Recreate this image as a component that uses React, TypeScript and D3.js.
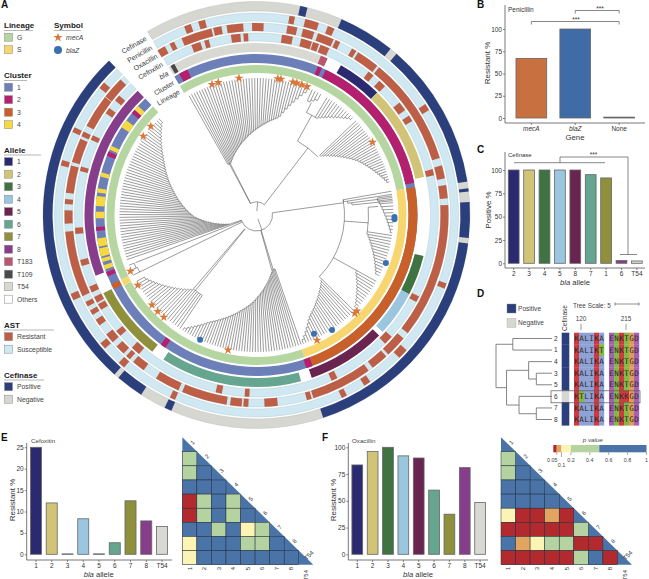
import React, { useEffect, useRef } from 'react';
import {
  arc,
  axisBottom,
  axisLeft,
  hierarchy,
  interpolateNumber,
  path as d3path,
  range,
  scaleBand,
  scaleLinear,
  scaleOrdinal,
  scaleThreshold,
  select,
  symbol,
  symbolStar,
} from 'd3';

const FONT = '"Liberation Sans", Arial, sans-serif';
const INK = '#333';

// ---- colours
const alleleNames = ['1', '2', '3', '4', '5', '6', '7', '8', 'T183', 'T109', 'T54', 'Others'];
const alleleColors = ['#2b2a70', '#d2c476', '#3f7341', '#9ac6e0', '#6a2450', '#66a58f', '#8e903c', '#863d8a', '#b8576f', '#4a4a4a', '#d8d9d3', '#ffffff'];
const lineageNames = ['G', 'S'];
const lineageColors = ['#b6d6a1', '#f7d670'];
const clusterNames = ['1', '2', '3', '4'];
const clusterColors = ['#6c7fb8', '#b5206e', '#c9602a', '#f6d83f'];
const RESISTANT = '#bd5f47';
const SUSCEPTIBLE = '#cfe8f2';
const POSITIVE = '#2b3f7d';
const NEGATIVE = '#d6d7d1';
const STAR = '#d9783a';
const DOT = '#3a6fb0';

const alleleColor = scaleOrdinal<string, string>(alleleNames, alleleColors);

// ---- panel A rings, degrees clockwise from the top
const RING_START = -30.7;
const RING_END = 316.3;
const lineageSegments: [number, number, string][] = [
  [-30.7, 80, 'G'], [80, 161.4, 'S'], [161.4, 242, 'G'], [242, 244.5, 'S'], [244.5, 316.3, 'G'],
];
const clusterSegments: [number, number, string][] = [
  [-30.7, 316.3, '1'], [-28.7, -25.4, '2'], [22.4, 24, '2'], [25.5, 78.4, '2'], [80, 161.4, '3'],
  [159.6, 162, '2'], [214.5, 216.5, '2'], [242.5, 244.5, '3'], [247.6, 249.2, '2'], [250.2, 251.8, '4'],
  [253, 254.4, '4'], [255, 258, '4'], [258.6, 261.6, '4'], [264.3, 265.7, '2'], [268.8, 271.2, '4'],
  [273.2, 276.8, '4'], [278, 279.6, '4'], [283.8, 285.4, '4'], [291.6, 293.2, '2'], [294, 295.5, '4'],
  [303, 306, '4'], [309.2, 310.8, '2'], [310.8, 312.6, '4'],
];
const alleleSegments: [number, number, string][] = [
  [-30.7, -30, 'T54'], [-30, -28.5, 'T109'], [-28.5, 22, 'T54'], [22, 24.5, 'T183'], [24.5, 29.4, 'Others'],
  [29.4, 44.6, '1'], [44.6, 77.2, '2'], [77.2, 103.8, 'Others'], [103.8, 117.4, '3'], [117.4, 132.9, '4'],
  [132.9, 134.5, 'Others'], [134.5, 161.3, '5'], [161.3, 165, 'Others'], [165, 212.8, '6'],
  [212.8, 217.3, 'Others'], [217.3, 243, '7'], [243, 249.3, 'Others'], [249.3, 316.3, '8'],
];
// resistant isolates as [centre, width]
const cefoxitinResistant = [
  [-19.5, 3], [-16, 1.5], [-6.6, 3], [-3.4, 1.5], [9.8, 3.5], [16, 3.5], [19.1, 2], [22.1, 3], [39, 2],
  [43.7, 2.5], [53.3, 3], [57.9, 2], [76.4, 2], [117.6, 2], [133.5, 3], [154.6, 2], [183, 1.5], [192, 2],
  [221.7, 3], [229.4, 2], [239.6, 2], [242.2, 2], [245.8, 2], [254.7, 2], [265, 2], [284.7, 1.5],
  [295.2, 1.5], [305, 2], [310, 2],
];
const oxacillinResistant = [
  [-29.8, 2.5], [-26.2, 1.5], [-18.3, 9.4], [-11.8, 2.5], [-6.5, 5], [0.4, 3.5], [10.8, 3], [15.8, 3.5],
  [21.2, 5], [25.1, 1.5], [30.6, 1.5], [35.5, 7], [56.2, 33], [77, 4], [83, 4], [107.5, 41], [133.3, 6.6],
  [140.1, 5.3], [153.5, 18.5], [164, 1.5], [175.6, 4], [183.2, 1.5], [186.2, 3.5], [195.9, 13.8],
  [207.8, 7.6], [218, 4], [222, 1.5], [225.3, 3], [230, 3], [235.9, 2], [239.4, 1.5], [242.3, 1.5],
  [255, 20], [269.4, 4], [274, 1.5], [280.8, 8.3], [289.7, 7.4], [295, 1.5], [302.8, 10.2], [311.5, 6.8],
];
const penicillinResistant = [
  [-20, 2], [-15.8, 2], [10.2, 1.6], [16, 4], [21.7, 2], [57.7, 2], [110.6, 1.6], [133.5, 3], [146.7, 2],
  [154.2, 1.6], [204.6, 1.6], [222, 2], [229.6, 2], [246, 2], [285, 1.6], [295, 1.5], [310, 2],
];
const cefinasePositive = [
  [11.8, 13.8], [23.5, 38.9], [41, 81], [82.8, 83.7], [86.5, 96.2], [97.7, 161.8], [203.5, 205.5],
  [212.7, 220.3], [221.7, 316.3],
];
const ringLabels = ['Lineage', 'Cluster', 'bla', 'Cefoxitin', 'Oxacillin', 'Penicillin', 'Cefinase'];
const ringInner = [142, 152, 163, 174, 184, 194, 204];
const ringOuter = [150, 161, 172, 182, 192, 202, 213.5];

// ---- panel A tree: combs are [first tip, last tip, tips, curve angles, curve radii]
type Comb = [number, number, number, number[], number[]];
const combs: Comb[] = [
  [-29.5, 22, 44, [-29.5, -27, -10, 12, 22], [58, 58, 76, 100, 136]],
  [24, 28, 4, [24, 28], [125, 132]],
  [31, 44.6, 12, [31, 44.6], [114, 136]],
  [46.6, 76, 27, [46.6, 61, 76], [87, 114.6, 136]],
  [80, 84, 4, [80, 84], [88, 100]],
  [82, 97.5, 12, [82, 97.5], [122, 136]],
  [98.6, 116.3, 15, [98.6, 116.3], [112, 134]],
  [119, 133, 12, [119, 133], [114.6, 136]],
  [134.5, 160, 22, [134.5, 152, 160], [92, 115, 136]],
  [161, 212.6, 46, [161, 163, 182, 203, 212.6], [57, 57, 88, 117, 136]],
  [214, 241, 22, [214, 219, 241], [97, 97, 130]],
  [244, 248.5, 3, [244, 248.5], [130, 133]],
  [251, 314.6, 54, [251, 268, 285, 300, 314.6], [29, 63, 86, 108, 134]],
];
// trunk radials [angle, from r, to r] and arcs [r, from angle, to angle]
const trunkRadials = [
  [5, 4, 13], [-27, 13, 58], [-28, 13, 58], [37.5, 13, 84.5], [29, 84.5, 114], [26, 114, 125], [160, 4, 16],
  [82, 16, 88], [94, 88, 112], [86, 112, 122], [119, 88, 114.6], [134.5, 88, 92], [163, 16, 57], [164.5, 16, 57],
  [219, 18, 97], [220.5, 18, 97], [244, 16, 130], [248.5, 16, 130], [251, 16, 29],
];
const trunkArcs = [
  [13, -28, 37.5], [84.5, 29, 46.6], [114, 26, 31], [16, 82, 251], [88, 80, 134.5], [112, 86, 98.6],
];
const starTips = [
  [-18.8, 138], [-16.1, 138], [-7.3, 138], [8.9, 138], [10.2, 138], [15.3, 138], [17, 138], [19.2, 138],
  [21.5, 138], [57.9, 137], [133.7, 139], [135, 139], [154.2, 139], [191.9, 138], [222.2, 138], [225.7, 138],
  [229.3, 138], [239.4, 138], [246, 138], [304.8, 138], [310, 138],
];
const dotTips = [
  [90.8, 138], [91.8, 138], [110.3, 138], [146.7, 137.6], [154.2, 132], [204.3, 137],
];

// ---- bar panels
const geneNames = ['mecA', 'blaZ', 'None'];
const geneResistant = [67, 100, 1];
const geneColors = ['#c8703f', '#3f6ca6', '#555'];
const cefinaseAlleles = ['2', '3', '4', '5', '8', '7', '1', '6', 'T54'];
const cefinaseValues = [100, 100, 100, 100, 100, 95, 91.5, 3, 2.5];
const cefinaseColorKeys = ['1', '2', '3', '4', '5', '6', '7', '8', 'T54'];
const barAlleles = ['1', '2', '3', '4', '5', '6', '7', '8', 'T54'];
const cefoxitinValues = [25, 12, 0.1, 8.3, 0.1, 2.7, 12.5, 7.8, 6.5];
const oxacillinValues = [83.5, 96, 100, 92, 90, 60, 37.5, 81, 48.5];

// ---- panel D
const seqRows = ['2', '1', '4', '3', '5', '6', '7', '8'];
const seqs = [
  'KALIKA ENKTGD', 'KALIKT ENKTGD', 'KALIKA ENKTGD', 'KALIKA ENKTGD',
  'KALIKA ENKTGD', 'KTLIKA ENKKGD', 'KALIKA ENKTGD', 'KALIKA ENKTGD',
];
const residueColors: Record<string, string> = {
  K: '#cf3a3f', A: '#8fa2d6', L: '#8fa2d6', I: '#8fa2d6', T: '#80bb45',
  E: '#a561b4', N: '#80bb45', G: '#e39a58', D: '#a561b4',
};
const alleleTree = {
  len: 0,
  children: [
    { len: 3.5, children: [{ len: 0, name: '2' }, { len: 0, name: '1' }] },
    {
      len: 2.2,
      children: [
        { len: 4.6, children: [{ len: 0, name: '4' }, { len: 1.6, children: [{ len: 0, name: '3' }, { len: 0, name: '5' }] }] },
        { len: 2.6, children: [{ len: 0, name: '6' }, { len: 3.6, children: [{ len: 0, name: '7' }, { len: 0, name: '8' }] }] },
      ],
    },
  ],
};

// ---- heatmaps, lower triangle by row
const pColors = ['#b22a2e', '#e2a55f', '#fbf4b5', '#b5d3a0', '#4a74a8'];
const pBreaks = [0.05, 0.1, 0.2, 0.5];
const cefoxitinP = [
  [0.3], [0.3, 0.8], [0.8, 0.8, 0.8], [0.02, 0.3, 0.8, 0.3], [0.02, 0.3, 0.8, 0.3, 0.8],
  [0.8, 0.8, 0.3, 0.8, 0.15, 0.3], [0.15, 0.8, 0.8, 0.8, 0.3, 0.3, 0.8], [0.15, 0.8, 0.8, 0.8, 0.8, 0.8, 0.8, 0.8],
];
const oxacillinP = [
  [0.3], [0.3, 0.8], [0.8, 0.8, 0.8], [0.8, 0.8, 0.8, 0.8], [0.15, 0.02, 0.02, 0.08, 0.02],
  [0.02, 0.02, 0.02, 0.02, 0.02, 0.3], [0.8, 0.08, 0.15, 0.3, 0.3, 0.02, 0.02],
  [0.02, 0.02, 0.02, 0.02, 0.02, 0.3, 0.8, 0.02],
];
const pTicks = [0.05, 0.1, 0.2, 0.4, 0.6, 0.8, 1];

// ---- polar helpers
const CX = 256.5;
const CY = 215;
const rad = (deg: number) => (deg * Math.PI) / 180;
const polar = (deg: number, r: number): [number, number] => [CX + r * Math.sin(rad(deg)), CY - r * Math.cos(rad(deg))];
const ringArc = arc<{ a: number; b: number; r0: number; r1: number }>()
  .startAngle(d => rad(d.a))
  .endAngle(d => rad(d.b))
  .innerRadius(d => d.r0)
  .outerRadius(d => d.r1);

function treePath(): string {
  const p = d3path();
  const arcTo = (r: number, a: number, b: number) => {
    p.moveTo(...polar(a, r));
    p.arc(CX, CY, r, rad(a - 90), rad(b - 90), b < a);
  };
  const radial = (deg: number, r0: number, r1: number) => {
    p.moveTo(...polar(deg, r0));
    p.lineTo(...polar(deg, r1));
  };
  const TIP = 137;
  combs.forEach(([from, to, n, ct, cr]) => {
    const curve = scaleLinear().domain(ct).range(cr);
    const tips = range(n).map(i => interpolateNumber(from, to)(n > 1 ? i / (n - 1) : 0));
    tips.forEach((t, i) => {
      radial(t, curve(t), TIP);
      if (i < n - 1) {
        const next = tips[i + 1];
        arcTo(curve(t), t, next);
        radial(next, curve(t), curve(next));
      }
    });
  });
  trunkRadials.forEach(([a, r0, r1]) => radial(a, r0, r1));
  trunkArcs.forEach(([r, a, b]) => arcTo(r, a, b));
  return p.toString();
}

const T: React.FC<React.SVGProps<SVGTextElement>> = ({ children, ...rest }) => (
  <text fontFamily={FONT} fill={INK} {...rest}>
    {children}
  </text>
);

function Axis({ axis, transform, italic }: { axis: any; transform: string; italic?: (d: string) => boolean }) {
  const ref = useRef<SVGGElement>(null);
  useEffect(() => {
    const g = select(ref.current as SVGGElement);
    g.call(axis);
    g.select('.domain').remove();
    g.selectAll('line').attr('stroke', '#555').attr('stroke-width', 0.7);
    g.selectAll('text')
      .attr('font-family', FONT)
      .attr('font-size', 6.5)
      .attr('fill', INK)
      .attr('font-style', (d: any) => (italic && italic(String(d)) ? 'italic' : 'normal'));
  });
  return <g ref={ref} transform={transform} />;
}

function Bars(props: {
  names: string[];
  values: number[];
  colors: string[];
  xr: [number, number];
  axisX: number;
  axisEnd: number;
  axisTop: number;
  axisBottomY: number;
  y0: number;
  y1: number;
  max: number;
  ticks: number[];
  pad?: number;
  italic?: (d: string) => boolean;
}) {
  const { names, values, colors, xr, axisX, axisEnd, axisTop, axisBottomY, y0, y1, max, ticks, italic } = props;
  const x = scaleBand<string>().domain(names).range(xr).paddingInner(props.pad ?? 0.3).paddingOuter((props.pad ?? 0.3) / 2);
  const y = scaleLinear().domain([0, max]).range([y0, y1]);
  return (
    <g>
      {values.map((v, i) => (
        <rect
          key={names[i]}
          x={x(names[i])}
          y={y(v)}
          width={x.bandwidth()}
          height={y0 - y(v)}
          fill={colors[i]}
          stroke="#666"
          strokeWidth={0.8}
        />
      ))}
      <line x1={axisX} x2={axisX} y1={axisTop} y2={axisBottomY} stroke="#555" strokeWidth={0.8} />
      <line x1={axisX} x2={axisEnd} y1={axisBottomY} y2={axisBottomY} stroke="#555" strokeWidth={0.8} />
      <Axis axis={axisLeft(y).tickValues(ticks).tickSize(2).tickPadding(1).tickFormat(d => String(d))} transform={`translate(${axisX},0)`} />
      <Axis axis={axisBottom(x).tickSize(2).tickPadding(1.5)} transform={`translate(0,${axisBottomY})`} italic={italic} />
    </g>
  );
}

function Heat({ x0, x1, data, bottomX }: { x0: number; x1: number; data: number[][]; bottomX: number }) {
  const top = 437.3;
  const gridTop = 451.7;
  const bottom = 564.7;
  const color = scaleThreshold<number, string>().domain(pBreaks).range(pColors);
  const cols = scaleBand<number>().domain(range(9)).range([x0, x1]);
  const rows = scaleBand<number>().domain(range(8)).range([gridTop, bottom]);
  const w = cols.bandwidth();
  const h = rows.bandwidth();
  return (
    <g>
      <path d={`M${x0},${top}L${x1},${bottom}L${x0},${bottom}Z`} fill={pColors[4]} />
      {data.map((row, r) =>
        row.map((p, c) => (
          <rect key={`${r}-${c}`} x={cols(c)} y={rows(r)} width={w} height={h} fill={color(p)} stroke="#26303d" strokeWidth={0.5} />
        )),
      )}
      {barAlleles.map((a, i) => (
        <React.Fragment key={a}>
          <T
            fontSize={6}
            textAnchor="middle"
            transform={`translate(${(cols(i) as number) + w * 0.8},${top + h * i + 6.5}) rotate(-45)`}
          >
            {a}
          </T>
          <T
            fontSize={6}
            textAnchor={a === 'T54' ? 'end' : 'middle'}
            transform={`translate(${(cols(i) as number) + w * bottomX + 2},${a === 'T54' ? 570 : 568.5}) rotate(-90)`}
          >
            {a}
          </T>
        </React.Fragment>
      ))}
    </g>
  );
}

function Legend({ title, y, width, rows }: { title: string; y: number; width: number; rows: [string, string][] }) {
  return (
    <g>
      <T x={4} y={y} fontSize={8} fontWeight="bold" fill="#222">
        {title}
      </T>
      <line x1={4} x2={4 + width} y1={y + 2.5} y2={y + 2.5} stroke="#999" strokeWidth={0.7} />
      {rows.map(([name, color], i) => (
        <g key={name}>
          <rect x={4.5} y={y + 5.2 + i * 12.5} width={8} height={8} fill={color} stroke="#888" strokeWidth={0.5} />
          <T x={17} y={y + 11.5 + i * 12.5} fontSize={6.8} fill="#444">
            {name}
          </T>
        </g>
      ))}
    </g>
  );
}

function Bracket({ x1, x2, y, tip }: { x1: number; x2: number; y: number; tip: number }) {
  return <path d={`M${x1},${y + tip}V${y}H${x2}V${y + tip}`} fill="none" stroke="#555" strokeWidth={0.7} />;
}

function AlleleTreeLines() {
  const root = hierarchy<any>(alleleTree);
  const x = scaleLinear().domain([0, 5]).range([496, 520]);
  const rowY = scaleBand<string>().domain(seqRows).range([332.7, 425.3]);
  const yOf = (n: any): number =>
    n.children ? (yOf(n.children[0]) + yOf(n.children[n.children.length - 1])) / 2 : (rowY(n.data.name) as number) + rowY.bandwidth() / 2;
  const segs: string[] = [];
  const walk = (n: any, d: number) => {
    const dist = d + n.data.len;
    if (n.children) {
      n.children.forEach((c: any) => walk(c, dist));
      const ys = n.children.map(yOf);
      segs.push(`M${x(dist)},${ys[0]}V${ys[ys.length - 1]}`);
      n.children.forEach((c: any) => {
        const end = c.children ? x(dist + c.data.len) : 552;
        segs.push(`M${x(dist)},${yOf(c)}H${end}`);
      });
    }
  };
  walk(root, 0);
  return <path d={segs.join('')} fill="none" stroke="#777" strokeWidth={0.9} />;
}

export default function App() {
  const starPath = symbol().type(symbolStar).size(26)() as string;
  const residueCols = scaleBand<number>().domain(range(13)).range([574, 639]);
  const rowBand = scaleBand<string>().domain(seqRows).range([332.7, 425.3]);
  const geneX = scaleBand<string>().domain(geneNames).range([509.4, 641.1]);
  const pX = scaleLinear().domain([0, 1]).range([552, 646.5]);
  const astRings: [number[][], number][] = [
    [cefoxitinResistant, 3],
    [oxacillinResistant, 4],
    [penicillinResistant, 5],
  ];
  const pSegments = [0, ...pBreaks, 1];

  return (
    <svg
      width={649}
      height={579}
      viewBox="0 0 649 579"
      style={{ position: 'absolute', left: 0, top: 0, background: '#fff' }}
    >
      {/* panel letters */}
      <T x={1} y={8} fontSize={10} fontWeight="bold" fill="#111">A</T>
      <T x={477} y={8} fontSize={10} fontWeight="bold" fill="#111">B</T>
      <T x={477} y={153} fontSize={10} fontWeight="bold" fill="#111">C</T>
      <T x={477} y={297} fontSize={10} fontWeight="bold" fill="#111">D</T>
      <T x={1} y={441} fontSize={10} fontWeight="bold" fill="#111">E</T>
      <T x={322} y={441} fontSize={10} fontWeight="bold" fill="#111">F</T>

      {/* legends of A */}
      <Legend title="Lineage" y={28} width={29} rows={lineageNames.map((n, i) => [n, lineageColors[i]])} />
      <Legend title="Cluster" y={78} width={23} rows={clusterNames.map((n, i) => [n, clusterColors[i]])} />
      <Legend title="Allele" y={152.5} width={37} rows={alleleNames.map((n, i) => [n, alleleColors[i]])} />
      <Legend title="AST" y={327.5} width={50} rows={[['Resistant', RESISTANT], ['Susceptible', SUSCEPTIBLE]]} />
      <Legend title="Cefinase" y={377.5} width={40} rows={[['Positive', POSITIVE], ['Negative', NEGATIVE]]} />
      <T x={54} y={28} fontSize={8} fontWeight="bold" fill="#222">Symbol</T>
      <line x1={54} x2={81} y1={30.5} y2={30.5} stroke="#999" strokeWidth={0.7} />
      <path d={starPath} transform="translate(58,37.5)" fill={STAR} />
      <circle cx={58} cy={50} r={4} fill={DOT} />
      <T x={66} y={40} fontSize={6.8} fontStyle="italic" fill="#444">mecA</T>
      <T x={66} y={52.5} fontSize={6.8} fontStyle="italic" fill="#444">blaZ</T>

      {/* rings of A */}
      <g transform={`translate(${CX},${CY})`}>
        {lineageSegments.map(([a, b, c], i) => (
          <path key={i} d={ringArc({ a, b, r0: ringInner[0], r1: ringOuter[0] }) as string} fill={lineageColors[lineageNames.indexOf(c)]} />
        ))}
        {clusterSegments.map(([a, b, c], i) => (
          <path key={i} d={ringArc({ a, b, r0: ringInner[1], r1: ringOuter[1] }) as string} fill={clusterColors[clusterNames.indexOf(c)]} />
        ))}
        {alleleSegments.map(([a, b, c], i) => (
          <path key={i} d={ringArc({ a, b, r0: ringInner[2], r1: ringOuter[2] }) as string} fill={alleleColor(c)} />
        ))}
        {astRings.map(([res, ring]) => (
          <g key={ring}>
            <path d={ringArc({ a: RING_START, b: RING_END, r0: ringInner[ring], r1: ringOuter[ring] }) as string} fill={SUSCEPTIBLE} stroke="#9fb4bd" strokeWidth={0.3} />
            {res.map(([c, w], i) => (
              <path key={i} d={ringArc({ a: c - w / 2, b: c + w / 2, r0: ringInner[ring], r1: ringOuter[ring] }) as string} fill={RESISTANT} />
            ))}
          </g>
        ))}
        <path d={ringArc({ a: RING_START, b: RING_END, r0: ringInner[6], r1: ringOuter[6] }) as string} fill={NEGATIVE} stroke="#aaa" strokeWidth={0.3} />
        {cefinasePositive.map(([a, b], i) => (
          <path key={i} d={ringArc({ a, b, r0: ringInner[6], r1: ringOuter[6] }) as string} fill={POSITIVE} />
        ))}
      </g>
      {ringLabels.map((label, i) => {
        const [px, py] = polar(-32, (ringInner[i] + ringOuter[i]) / 2 - 2.5);
        return (
          <T
            key={label}
            fontSize={7}
            textAnchor="end"
            fontStyle={label === 'bla' ? 'italic' : 'normal'}
            transform={`translate(${px},${py}) rotate(-30)`}
          >
            {label}
          </T>
        );
      })}

      {/* tree of A */}
      <path d={treePath()} fill="none" stroke="#4a4a4a" strokeWidth={0.55} />
      {starTips.map(([a, r], i) => {
        const [px, py] = polar(a, r);
        return <path key={i} d={starPath} transform={`translate(${px},${py})`} fill={STAR} />;
      })}
      {dotTips.map(([a, r], i) => {
        const [px, py] = polar(a, r);
        return <circle key={i} cx={px} cy={py} r={3} fill={DOT} />;
      })}

      {/* B */}
      <Bars
        names={geneNames}
        values={geneResistant}
        colors={geneColors}
        xr={[509.4, 641.1]}
        pad={0.3}
        axisX={505}
        axisEnd={645}
        axisTop={5}
        axisBottomY={123}
        y0={118}
        y1={29}
        max={100}
        ticks={[0, 25, 50, 75, 100]}
        italic={d => d !== 'None'}
      />
      <T x={508} y={11.5} fontSize={6.5}>Penicillin</T>
      <T fontSize={8} textAnchor="middle" transform="translate(490,63) rotate(-90)">Resistant %</T>
      <T x={575} y={140} fontSize={7.8} textAnchor="middle">Gene</T>
      <Bracket x1={(geneX('blaZ') as number) + geneX.bandwidth() / 2} x2={(geneX('None') as number) + geneX.bandwidth() / 2} y={10.5} tip={3} />
      <Bracket x1={(geneX('mecA') as number) + geneX.bandwidth() / 2} x2={(geneX('None') as number) + geneX.bandwidth() / 2} y={21.5} tip={3} />
      <T x={600} y={11} fontSize={6.5} textAnchor="middle">***</T>
      <T x={576} y={22} fontSize={6.5} textAnchor="middle">***</T>

      {/* C */}
      <Bars
        names={cefinaseAlleles}
        values={cefinaseValues}
        colors={cefinaseAlleles.map((_, i) => alleleColor(cefinaseColorKeys[i]))}
        xr={[506, 644.6]}
        axisX={505}
        axisEnd={645}
        axisTop={152}
        axisBottomY={268}
        y0={263.3}
        y1={170}
        max={100}
        ticks={[0, 25, 50, 75, 100]}
      />
      <T x={508} y={156.5} fontSize={6}>Cefinase</T>
      <T fontSize={8} textAnchor="middle" transform="translate(491,210) rotate(-90)">Positive %</T>
      <T x={575} y={285} fontSize={7.6} textAnchor="middle"><tspan fontStyle="italic">bla</tspan> allele</T>
      <path d="M514,162.7H605M560,162.7V157H628V254.5M620,254.5H637" fill="none" stroke="#555" strokeWidth={0.7} />
      <T x={593.5} y={157} fontSize={6.5} textAnchor="middle">***</T>

      {/* D */}
      <rect x={507} y={304} width={9} height={9} fill={POSITIVE} stroke="#888" strokeWidth={0.4} />
      <rect x={507} y={318.5} width={9} height={9} fill={NEGATIVE} stroke="#aaa" strokeWidth={0.4} />
      <T x={518} y={310.5} fontSize={6.6} fill="#444">Positive</T>
      <T x={518} y={325} fontSize={6.6} fill="#444">Negative</T>
      <T fontSize={6.6} transform="translate(567,331) rotate(-90)" fill="#444">Cefinase</T>
      <T x={573} y={307.5} fontSize={6.4} fill="#444">Tree Scale: 5</T>
      <path d="M615,302.5V305.5M615,304H639M639,302.5V305.5" fill="none" stroke="#444" strokeWidth={0.6} />
      <T x={581} y={320.5} fontSize={6.4} textAnchor="middle" fill="#444">120</T>
      <T x={626} y={320.5} fontSize={6.4} textAnchor="middle" fill="#444">215</T>
      <path d="M581,324V330M626,324V330" stroke="#555" strokeWidth={0.6} />
      <AlleleTreeLines />
      {seqRows.map((row, i) => (
        <g key={row}>
          <T x={554} y={(rowBand(row) as number) + rowBand.bandwidth() / 2 + 2.4} fontSize={6.5}>{row}</T>
          <rect x={561.7} y={rowBand(row)} width={7.6} height={rowBand.bandwidth() + 0.3} fill={row === '6' ? NEGATIVE : POSITIVE} />
          {seqs[i].split('').map((ch, c) =>
            ch === ' ' ? null : (
              <g key={c}>
                <rect x={residueCols(c)} y={rowBand(row)} width={residueCols.bandwidth() + 0.2} height={rowBand.bandwidth() + 0.3} fill={residueColors[ch]} />
                <text
                  x={(residueCols(c) as number) + residueCols.bandwidth() / 2}
                  y={(rowBand(row) as number) + rowBand.bandwidth() / 2 + 2.6}
                  fontFamily='"DejaVu Sans Mono", monospace'
                  fontSize={7.6}
                  textAnchor="middle"
                  fill="#2a2a2a"
                >
                  {ch}
                </text>
              </g>
            ),
          )}
        </g>
      ))}
      <rect x={551} y={390.8} width={89} height={12} fill="none" stroke="#555" strokeWidth={0.7} />

      {/* E */}
      <Bars
        names={barAlleles}
        values={cefoxitinValues}
        colors={barAlleles.map(a => alleleColor(a))}
        xr={[28.1, 169.9]}
        axisX={26.7}
        axisEnd={172}
        axisTop={443}
        axisBottomY={560}
        y0={554.3}
        y1={447.3}
        max={25}
        ticks={[0, 5, 10, 15, 20, 25]}
      />
      <T x={31} y={442.5} fontSize={6.2} fill="#444">Cefoxitin</T>
      <T fontSize={8} textAnchor="middle" transform="translate(15,500) rotate(-90)">Resistant %</T>
      <T x={98.7} y={577} fontSize={7.6} textAnchor="middle"><tspan fontStyle="italic">bla</tspan> allele</T>
      <Heat x0={182.3} x1={313.3} data={cefoxitinP} bottomX={0.5} />

      {/* F */}
      <Bars
        names={barAlleles}
        values={oxacillinValues}
        colors={barAlleles.map(a => alleleColor(a))}
        xr={[349.6, 487.8]}
        axisX={348.3}
        axisEnd={488}
        axisTop={443}
        axisBottomY={560}
        y0={554.3}
        y1={447.3}
        max={100}
        ticks={[0, 25, 50, 75, 100]}
      />
      <T x={352} y={442.5} fontSize={6.2} fill="#444">Oxacillin</T>
      <T fontSize={8} textAnchor="middle" transform="translate(336,500) rotate(-90)">Resistant %</T>
      <T x={418} y={577} fontSize={7.6} textAnchor="middle"><tspan fontStyle="italic">bla</tspan> allele</T>
      <Heat x0={501} x1={632} data={oxacillinP} bottomX={0.5} />

      {/* p value legend */}
      {pSegments.slice(0, -1).map((p, i) => (
        <rect key={p} x={pX(p) + (i === 0 ? 1.3 : 0)} y={445} width={pX(pSegments[i + 1]) - pX(p) - (i === 0 ? 1.3 : 0)} height={7.3} fill={pColors[i]} />
      ))}
      <T x={592.7} y={441.5} fontSize={6.2} textAnchor="middle" fontStyle="italic" fill="#444">p value</T>
      {pTicks.map(t => (
        <g key={t}>
          <line x1={pX(t)} x2={pX(t)} y1={452.3} y2={t === 0.1 ? 457 : 455} stroke="#555" strokeWidth={0.5} />
          <T x={t === 0.05 ? pX(t) - 4.5 : pX(t)} y={t === 0.1 ? 467 : 462} fontSize={5.4} textAnchor="middle" fill="#444">
            {t}
          </T>
        </g>
      ))}
    </svg>
  );
}
